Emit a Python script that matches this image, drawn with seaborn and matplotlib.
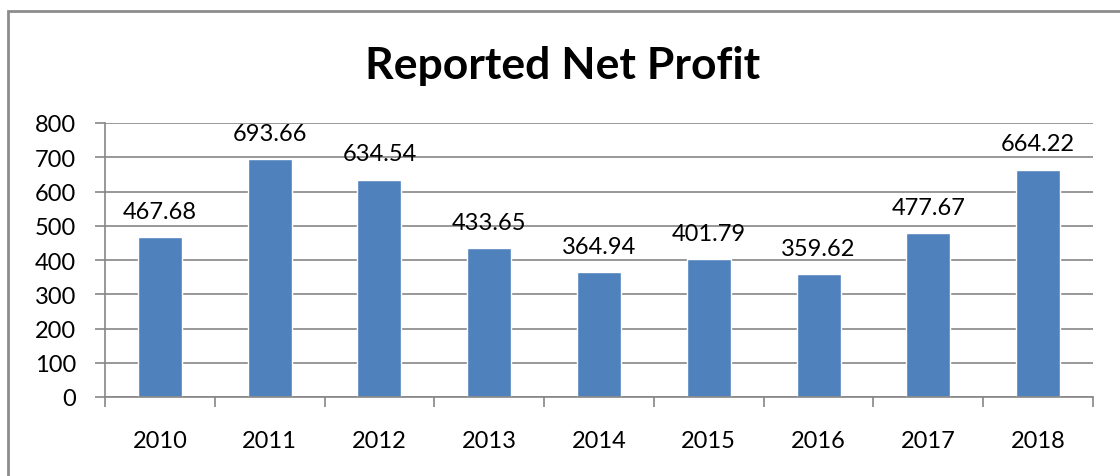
import seaborn as sns
import matplotlib.pyplot as plt
import matplotlib.patches as mpatches
import pandas as pd

years = ["2010", "2011", "2012", "2013", "2014", "2015", "2016", "2017", "2018"]
profit = [467.68, 693.66, 634.54, 433.65, 364.94, 401.79, 359.62, 477.67, 664.22]

df = pd.DataFrame({"Year": years, "Profit": profit})

sns.set_theme(style="white")
plt.rcParams['font.family'] = ['Lato', 'DejaVu Sans']

fig = plt.figure(figsize=(11.2, 4.77), dpi=100)
ax = fig.add_axes([105 / 1120, 1 - 398 / 477, (1093 - 105) / 1120, (398 - 124) / 477])

sns.barplot(data=df, x="Year", y="Profit", color="#4F81BD", saturation=1,
            width=0.4, ax=ax)

ax.set_ylim(0, 800)
ax.set_xlim(-0.5, len(years) - 0.5)
ax.set_yticks(range(0, 801, 100))
ax.yaxis.grid(True, color="#868686", linewidth=1.2)
ax.set_axisbelow(True)
ax.set_xlabel("")
ax.set_ylabel("")

for s in ["top", "right"]:
    ax.spines[s].set_visible(False)
for s in ["left", "bottom"]:
    ax.spines[s].set_color("#868686")
    ax.spines[s].set_linewidth(1.2)

# category boundary ticks on x
ax.set_xticks([i + 0.5 for i in range(-1, len(years))], minor=True)
ax.tick_params(axis="x", which="minor", length=7, color="#868686", width=1.2, bottom=True)
ax.tick_params(axis="x", which="major", length=0, labelsize=17, pad=24, colors="black")
ax.tick_params(axis="y", length=7, color="#868686", width=1.2, left=True, labelsize=17,
               pad=14, colors="black")

for i, v in enumerate(profit):
    ax.annotate(f"{v:.2f}", (i, v), xytext=(0, 11), textcoords="offset points",
                ha="center", va="bottom", fontsize=17, color="black")

fig.text(563 / 1120, 1 - 66 / 477, "Reported Net Profit", ha="center", va="center",
         fontsize=32, fontweight="bold", color="black")

# outer chart frame (partially cropped)
fig.patches.append(mpatches.Rectangle((8 / 1120, -0.1), 1.2, 1 - 12 / 477 + 0.1,
                                      transform=fig.transFigure, fill=False,
                                      edgecolor="#8c8c8c", linewidth=2))

fig.savefig("out.png", dpi=100)
